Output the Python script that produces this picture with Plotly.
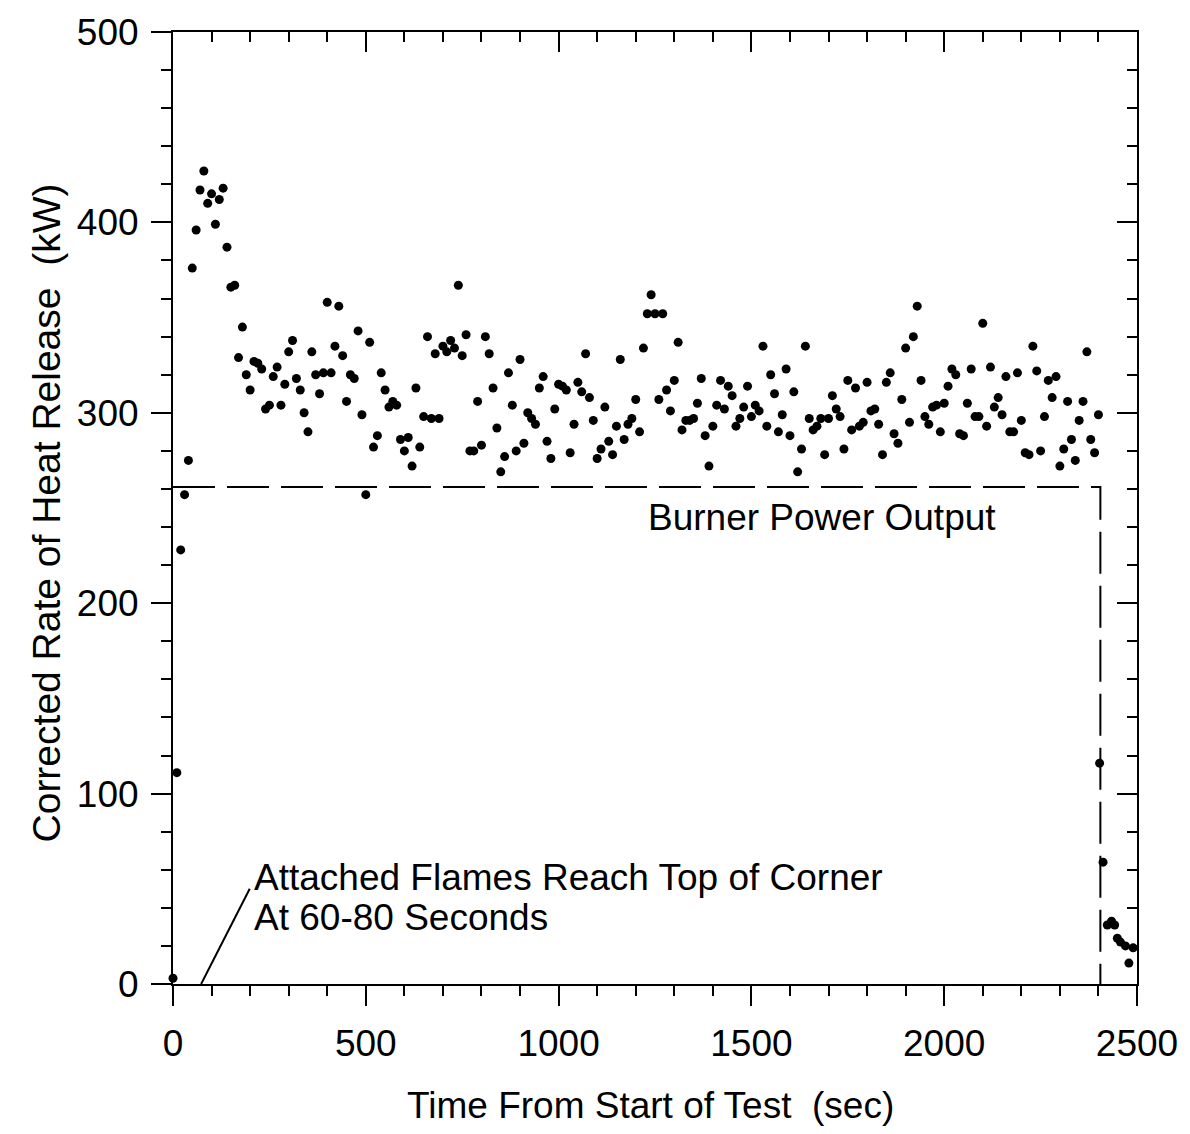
import plotly.graph_objects as go

# ---- data ----
main_time_s = list(range(0, 2410, 10))
main_hrr_kw = [
    3, 111, 228,
    257, 275, 376, 396, 417, 427, 410, 415, 399, 412, 418, 387, 366, 367, 329, 345,
    320, 312, 327, 326, 323, 302, 304, 319, 324, 304, 315, 332, 338, 318, 312, 300,
    290, 332, 320, 310, 321, 358, 321, 335, 356, 330, 306, 320, 318, 343, 299, 257,
    337, 282, 288, 321, 312, 303, 306, 304, 286, 280, 287, 272, 313, 282, 298, 340,
    297, 331, 297, 335, 332, 338, 334, 367, 330, 341, 280, 280, 306, 283, 340, 331,
    313, 292,
    269, 277, 321, 304, 280, 328, 284, 300, 297, 294, 313, 319, 285, 276, 302, 315,
    314, 312, 279, 294, 316, 311, 331, 308, 296, 276, 281, 303, 285, 278, 293, 328,
    286, 294, 297, 307, 290, 334, 352, 362, 352, 307, 352, 312, 301, 317, 337, 291,
    296, 296, 297, 305, 318, 288, 272, 293, 304, 317, 302, 314, 309, 293, 297, 303,
    314, 298, 304, 301, 335, 293, 320, 310, 290, 299, 323, 288, 311,
    269, 281, 335, 297, 291, 293, 297, 278, 297, 309, 302, 298, 281, 317, 291, 313,
    293, 295, 316, 301, 302, 294, 278, 316, 321, 289, 284, 307, 334, 295, 340, 356,
    317, 298, 294, 303, 304, 290, 305, 314, 323, 320, 289, 288, 305, 323, 298, 298,
    347, 293, 324, 303, 308, 299, 319, 290, 290, 321, 296, 279, 278, 335, 322, 280,
    298, 317, 308, 319, 272, 281, 306, 286, 275, 296, 306, 332, 286, 279, 299,
]
tail_time_s = [2403, 2412, 2423, 2434, 2442, 2449, 2457, 2470, 2479, 2490]
tail_hrr_kw = [116, 64, 31, 33, 31, 24, 22, 20, 11, 19]

burner_time_s = [0, 2405, 2405]
burner_kw = [261, 261, 0]

pointer_time_s = [73, 199]
pointer_kw = [0, 50]

x_ticks = [0, 500, 1000, 1500, 2000, 2500]
y_ticks = [0, 100, 200, 300, 400, 500]

FONT = "Liberation Sans, Arial, Helvetica, sans-serif"
FS = 37

fig = go.Figure()

fig.add_trace(go.Scatter(
    x=burner_time_s, y=burner_kw, mode="lines",
    line=dict(color="black", width=2, dash="42px,12px"),
    showlegend=False, hoverinfo="skip"))

fig.add_trace(go.Scatter(
    x=pointer_time_s, y=pointer_kw, mode="lines",
    line=dict(color="black", width=2),
    showlegend=False, hoverinfo="skip", cliponaxis=False))

fig.add_trace(go.Scatter(
    x=main_time_s + tail_time_s, y=main_hrr_kw + tail_hrr_kw, mode="markers",
    marker=dict(color="black", size=9),
    showlegend=False, cliponaxis=False))

# dummy trace to attach mirrored axes
fig.add_trace(go.Scatter(
    x=[0], y=[0], xaxis="x2", yaxis="y2", mode="markers",
    marker=dict(opacity=0), showlegend=False, hoverinfo="skip"))

common = dict(showgrid=False, zeroline=False, showline=True,
              linecolor="black", linewidth=2, tickcolor="black",
              tickwidth=2, ticklen=20)

fig.update_layout(
    width=1190, height=1134,
    margin=dict(l=173, r=50, t=26, b=150),
    paper_bgcolor="white", plot_bgcolor="white",
    font=dict(family=FONT, size=FS, color="black"),
    xaxis=dict(range=[0, 2500], tickvals=x_ticks, ticks="outside",
               tickfont=dict(size=FS), ticklabelstandoff=6,
               minor=dict(dtick=100, tick0=0, ticks="outside", ticklen=10,
                          tickwidth=2, tickcolor="black", showgrid=False),
               **common),
    yaxis=dict(range=[0, 500], tickvals=y_ticks, ticks="outside",
               tickfont=dict(size=FS), ticklabelstandoff=5,
               minor=dict(dtick=20, tick0=0, ticks="outside", ticklen=10,
                          tickwidth=2, tickcolor="black", showgrid=False),
               **common),
    xaxis2=dict(range=[0, 2500], overlaying="x", side="top", anchor="y2",
                tickvals=x_ticks, ticks="inside", showticklabels=False,
                minor=dict(dtick=100, tick0=0, ticks="inside", ticklen=10,
                           tickwidth=2, tickcolor="black", showgrid=False),
                **common),
    yaxis2=dict(range=[0, 500], overlaying="y", side="right", anchor="x2",
                tickvals=y_ticks, ticks="inside", showticklabels=False,
                minor=dict(dtick=20, tick0=0, ticks="inside", ticklen=10,
                           tickwidth=2, tickcolor="black", showgrid=False),
                **common),
    annotations=[
        dict(text="Time From Start of Test  (sec)", xref="paper", yref="paper",
             x=0.495, y=-0.128, xanchor="center", yanchor="middle",
             showarrow=False, font=dict(size=FS)),
        dict(text="Corrected Rate of Heat Release  (kW)", xref="paper", yref="paper",
             x=-0.131, y=0.495, xanchor="center", yanchor="middle", textangle=-90,
             showarrow=False, font=dict(size=39)),
        dict(text="Burner Power Output", xref="x", yref="y",
             x=1684, y=245, xanchor="center", yanchor="middle",
             showarrow=False, font=dict(size=FS)),
        dict(text="Attached Flames Reach Top of Corner", xref="x", yref="y",
             x=204, y=56, xanchor="left", yanchor="middle",
             showarrow=False, font=dict(size=FS)),
        dict(text="At 60-80 Seconds", xref="x", yref="y",
             x=204, y=35, xanchor="left", yanchor="middle",
             showarrow=False, font=dict(size=FS)),
    ],
)

fig.write_html("out.html")
